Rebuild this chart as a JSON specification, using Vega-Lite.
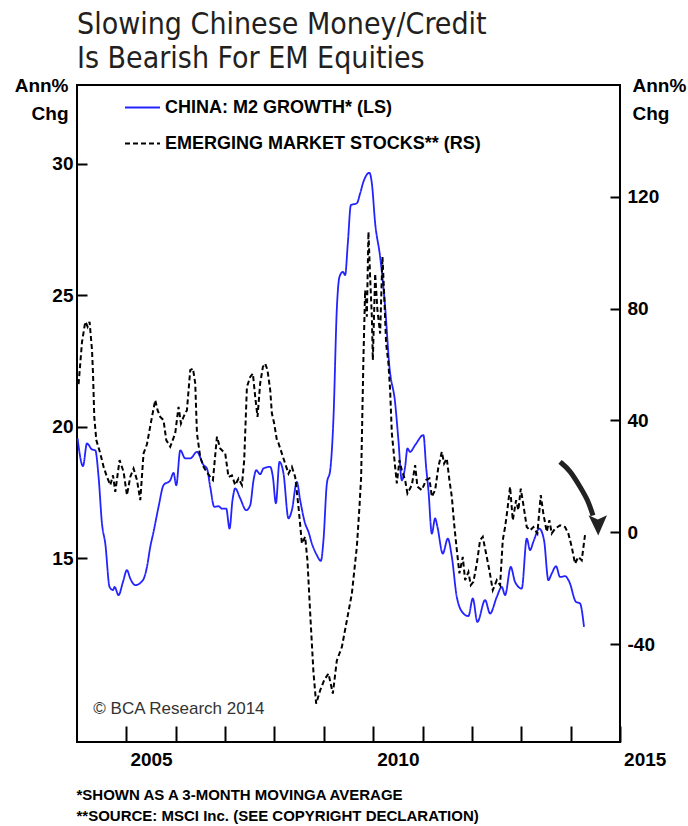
{
  "$schema": "https://vega.github.io/schema/vega-lite/v6.json",
  "width": 543,
  "height": 657,
  "autosize": {"type": "none"},
  "padding": {"left": 77, "top": 85, "right": 68, "bottom": 84},
  "background": "white",
  "config": {
    "font": "Liberation Sans",
    "view": {"stroke": "black", "strokeWidth": 2},
    "legend": {
      "orient": "none", "legendX": 47, "legendY": 4, "title": null,
      "symbolType": "stroke", "symbolSize": 1225, "symbolStrokeWidth": 2,
      "labelFontSize": 18, "labelFontWeight": "bold", "labelColor": "black",
      "labelOffset": 4, "rowPadding": 8, "labelLimit": 0
    }
  },
  "title": {
    "text": ["Slowing Chinese Money/Credit", "Is Bearish For EM Equities"],
    "anchor": "start", "frame": "group", "orient": "top",
    "font": "Liberation Sans Narrow, DejaVu Sans Condensed, sans-serif",
    "fontSize": 30, "fontWeight": "normal", "color": "#231f20",
    "lineHeight": 34, "offset": 2
  },
  "datasets": {
    "m2": [
      {"year": 2004.012, "m2": 19.55}, {"year": 2004.121, "m2": 18.5}, {"year": 2004.202, "m2": 19.36},
      {"year": 2004.304, "m2": 19.13}, {"year": 2004.371, "m2": 19.1}, {"year": 2004.437, "m2": 18.09},
      {"year": 2004.506, "m2": 16.31}, {"year": 2004.573, "m2": 15.55}, {"year": 2004.66, "m2": 13.9},
      {"year": 2004.729, "m2": 13.78}, {"year": 2004.761, "m2": 13.9}, {"year": 2004.842, "m2": 13.59},
      {"year": 2004.931, "m2": 14.09}, {"year": 2005.012, "m2": 14.54}, {"year": 2005.079, "m2": 14.22},
      {"year": 2005.18, "m2": 13.97}, {"year": 2005.336, "m2": 14.16}, {"year": 2005.417, "m2": 14.66},
      {"year": 2005.484, "m2": 15.42}, {"year": 2005.551, "m2": 16.0}, {"year": 2005.652, "m2": 16.95},
      {"year": 2005.753, "m2": 17.77}, {"year": 2005.889, "m2": 17.96}, {"year": 2005.956, "m2": 18.24},
      {"year": 2006.011, "m2": 17.77}, {"year": 2006.092, "m2": 19.1}, {"year": 2006.193, "m2": 18.79},
      {"year": 2006.294, "m2": 18.79}, {"year": 2006.43, "m2": 19.04}, {"year": 2006.563, "m2": 18.54},
      {"year": 2006.632, "m2": 18.41}, {"year": 2006.699, "m2": 17.71}, {"year": 2006.78, "m2": 16.95},
      {"year": 2006.867, "m2": 16.97}, {"year": 2006.936, "m2": 16.88}, {"year": 2007.023, "m2": 16.88},
      {"year": 2007.09, "m2": 16.12}, {"year": 2007.15, "m2": 17.2}, {"year": 2007.205, "m2": 17.65},
      {"year": 2007.306, "m2": 17.27}, {"year": 2007.428, "m2": 16.82}, {"year": 2007.509, "m2": 17.01},
      {"year": 2007.576, "m2": 17.96}, {"year": 2007.63, "m2": 18.34}, {"year": 2007.711, "m2": 18.19},
      {"year": 2007.778, "m2": 18.41}, {"year": 2007.914, "m2": 18.47}, {"year": 2007.968, "m2": 18.09},
      {"year": 2008.029, "m2": 17.08}, {"year": 2008.102, "m2": 18.66}, {"year": 2008.183, "m2": 18.22},
      {"year": 2008.284, "m2": 16.51}, {"year": 2008.353, "m2": 16.82}, {"year": 2008.454, "m2": 17.9},
      {"year": 2008.521, "m2": 17.2}, {"year": 2008.622, "m2": 16.31}, {"year": 2008.689, "m2": 16.0},
      {"year": 2008.758, "m2": 15.55}, {"year": 2008.859, "m2": 15.11}, {"year": 2008.94, "m2": 14.89},
      {"year": 2008.993, "m2": 15.68}, {"year": 2009.062, "m2": 17.84}, {"year": 2009.129, "m2": 18.34},
      {"year": 2009.195, "m2": 20.3}, {"year": 2009.264, "m2": 24.5}, {"year": 2009.317, "m2": 25.7},
      {"year": 2009.386, "m2": 25.89}, {"year": 2009.432, "m2": 25.77}, {"year": 2009.487, "m2": 27.0},
      {"year": 2009.548, "m2": 28.43}, {"year": 2009.669, "m2": 28.5}, {"year": 2009.736, "m2": 28.88},
      {"year": 2009.803, "m2": 29.32}, {"year": 2009.924, "m2": 29.66}, {"year": 2009.973, "m2": 29.26},
      {"year": 2010.04, "m2": 27.74}, {"year": 2010.141, "m2": 26.46}, {"year": 2010.242, "m2": 24.56},
      {"year": 2010.329, "m2": 22.28}, {"year": 2010.445, "m2": 20.9}, {"year": 2010.511, "m2": 19.49},
      {"year": 2010.58, "m2": 17.96}, {"year": 2010.647, "m2": 18.47}, {"year": 2010.694, "m2": 19.17},
      {"year": 2010.748, "m2": 19.04}, {"year": 2010.85, "m2": 19.3}, {"year": 2011.018, "m2": 19.68},
      {"year": 2011.072, "m2": 18.47}, {"year": 2011.119, "m2": 17.58}, {"year": 2011.188, "m2": 15.93},
      {"year": 2011.255, "m2": 16.51}, {"year": 2011.301, "m2": 16.19}, {"year": 2011.41, "m2": 15.17},
      {"year": 2011.512, "m2": 15.74}, {"year": 2011.593, "m2": 15.05}, {"year": 2011.694, "m2": 13.52},
      {"year": 2011.828, "m2": 12.89}, {"year": 2011.929, "m2": 12.79}, {"year": 2012.018, "m2": 13.46},
      {"year": 2012.111, "m2": 12.57}, {"year": 2012.267, "m2": 13.4}, {"year": 2012.368, "m2": 12.89},
      {"year": 2012.504, "m2": 13.52}, {"year": 2012.605, "m2": 13.9}, {"year": 2012.672, "m2": 13.59},
      {"year": 2012.787, "m2": 14.66}, {"year": 2012.874, "m2": 14.09}, {"year": 2013.01, "m2": 13.84},
      {"year": 2013.111, "m2": 15.74}, {"year": 2013.178, "m2": 15.3}, {"year": 2013.245, "m2": 15.62},
      {"year": 2013.366, "m2": 16.12}, {"year": 2013.461, "m2": 15.68}, {"year": 2013.549, "m2": 14.16},
      {"year": 2013.617, "m2": 14.41}, {"year": 2013.704, "m2": 14.69}, {"year": 2013.785, "m2": 14.28},
      {"year": 2013.887, "m2": 14.31}, {"year": 2013.974, "m2": 14.09}, {"year": 2014.109, "m2": 13.33},
      {"year": 2014.19, "m2": 13.27}, {"year": 2014.271, "m2": 12.38}
    ],
    "em": [
      {"year": 2004.032, "em": 53}, {"year": 2004.101, "em": 68}, {"year": 2004.168, "em": 75.3},
      {"year": 2004.188, "em": 74.7}, {"year": 2004.215, "em": 73.5}, {"year": 2004.255, "em": 75.3},
      {"year": 2004.304, "em": 65.2}, {"year": 2004.324, "em": 57}, {"year": 2004.35, "em": 41.3},
      {"year": 2004.391, "em": 33.0}, {"year": 2004.472, "em": 28.2}, {"year": 2004.539, "em": 23.4},
      {"year": 2004.607, "em": 19.8}, {"year": 2004.674, "em": 16.9}, {"year": 2004.729, "em": 20.4},
      {"year": 2004.775, "em": 14.5}, {"year": 2004.863, "em": 25.8}, {"year": 2004.944, "em": 21.6},
      {"year": 2005.012, "em": 13.3}, {"year": 2005.079, "em": 19.8}, {"year": 2005.146, "em": 22.8},
      {"year": 2005.215, "em": 18.7}, {"year": 2005.282, "em": 11.5}, {"year": 2005.348, "em": 28.2},
      {"year": 2005.417, "em": 31.5}, {"year": 2005.519, "em": 41.3}, {"year": 2005.585, "em": 47.3},
      {"year": 2005.632, "em": 43.7}, {"year": 2005.687, "em": 41.3}, {"year": 2005.753, "em": 40.1},
      {"year": 2005.808, "em": 33.0}, {"year": 2005.889, "em": 30.6}, {"year": 2005.99, "em": 35.4},
      {"year": 2006.057, "em": 44.9}, {"year": 2006.106, "em": 38.9}, {"year": 2006.158, "em": 41.3},
      {"year": 2006.227, "em": 43.7}, {"year": 2006.294, "em": 58.0}, {"year": 2006.349, "em": 58.6},
      {"year": 2006.395, "em": 53.3}, {"year": 2006.43, "em": 35.4}, {"year": 2006.496, "em": 27.0},
      {"year": 2006.563, "em": 23.4}, {"year": 2006.699, "em": 19.8}, {"year": 2006.754, "em": 18.7},
      {"year": 2006.835, "em": 34.2}, {"year": 2006.901, "em": 30.0}, {"year": 2007.003, "em": 28.2},
      {"year": 2007.069, "em": 19.8}, {"year": 2007.138, "em": 20.4}, {"year": 2007.205, "em": 16.9},
      {"year": 2007.272, "em": 19.2}, {"year": 2007.341, "em": 16.9}, {"year": 2007.387, "em": 25.8},
      {"year": 2007.442, "em": 52.0}, {"year": 2007.509, "em": 55.6}, {"year": 2007.563, "em": 56.8},
      {"year": 2007.61, "em": 48.5}, {"year": 2007.657, "em": 41.3}, {"year": 2007.711, "em": 53.3},
      {"year": 2007.766, "em": 59.2}, {"year": 2007.812, "em": 60.4}, {"year": 2007.859, "em": 58.0},
      {"year": 2007.914, "em": 50.9}, {"year": 2007.948, "em": 42.5}, {"year": 2007.995, "em": 38.9},
      {"year": 2008.049, "em": 33}, {"year": 2008.08, "em": 32}, {"year": 2008.183, "em": 26.4},
      {"year": 2008.284, "em": 21.0}, {"year": 2008.353, "em": 23.4}, {"year": 2008.42, "em": 19.8},
      {"year": 2008.487, "em": 9.1}, {"year": 2008.556, "em": -4.0}, {"year": 2008.622, "em": -1.6},
      {"year": 2008.668, "em": -10.0}, {"year": 2008.724, "em": -29.0}, {"year": 2008.79, "em": -50},
      {"year": 2008.845, "em": -61.3}, {"year": 2008.926, "em": -56.5}, {"year": 2009.007, "em": -52.9},
      {"year": 2009.094, "em": -50.5}, {"year": 2009.183, "em": -57.7}, {"year": 2009.264, "em": -45.8},
      {"year": 2009.366, "em": -41.0}, {"year": 2009.467, "em": -31.5}, {"year": 2009.568, "em": -21.9},
      {"year": 2009.669, "em": -5.2}, {"year": 2009.722, "em": 9.1}, {"year": 2009.756, "em": 19.8},
      {"year": 2009.803, "em": 62.8}, {"year": 2009.837, "em": 86.6}, {"year": 2009.872, "em": 77.1},
      {"year": 2009.904, "em": 107.5}, {"year": 2009.938, "em": 91.4}, {"year": 2009.973, "em": 77.1},
      {"year": 2009.993, "em": 61.6}, {"year": 2010.04, "em": 92.6}, {"year": 2010.086, "em": 79.5},
      {"year": 2010.141, "em": 71.1}, {"year": 2010.188, "em": 98.6}, {"year": 2010.222, "em": 85.5},
      {"year": 2010.262, "em": 67.6}, {"year": 2010.309, "em": 60.4}, {"year": 2010.343, "em": 50.9},
      {"year": 2010.378, "em": 35.4}, {"year": 2010.445, "em": 23.4}, {"year": 2010.479, "em": 17.5},
      {"year": 2010.532, "em": 25.8}, {"year": 2010.58, "em": 22.2}, {"year": 2010.647, "em": 18.7},
      {"year": 2010.694, "em": 13.9}, {"year": 2010.783, "em": 16.9}, {"year": 2010.85, "em": 24.0},
      {"year": 2010.896, "em": 16.3}, {"year": 2010.985, "em": 15.1}, {"year": 2011.072, "em": 18.7},
      {"year": 2011.139, "em": 19.3}, {"year": 2011.188, "em": 12.7}, {"year": 2011.255, "em": 15.1},
      {"year": 2011.321, "em": 23.4}, {"year": 2011.39, "em": 28.8}, {"year": 2011.437, "em": 24.6},
      {"year": 2011.491, "em": 26.4}, {"year": 2011.544, "em": 18.7}, {"year": 2011.593, "em": 12.7},
      {"year": 2011.639, "em": 3.2}, {"year": 2011.694, "em": -6.3}, {"year": 2011.747, "em": -14.7},
      {"year": 2011.815, "em": -8.8}, {"year": 2011.862, "em": -17.1}, {"year": 2011.929, "em": -14.2},
      {"year": 2011.977, "em": -18.9}, {"year": 2012.03, "em": -17.7}, {"year": 2012.099, "em": -11.2},
      {"year": 2012.166, "em": -2.8}, {"year": 2012.22, "em": -1.6}, {"year": 2012.287, "em": -7.6},
      {"year": 2012.354, "em": -13.6}, {"year": 2012.423, "em": -20.7}, {"year": 2012.504, "em": -17.1},
      {"year": 2012.571, "em": -18.9}, {"year": 2012.625, "em": -2.8}, {"year": 2012.672, "em": 1.9},
      {"year": 2012.718, "em": 7.9}, {"year": 2012.773, "em": 16.3}, {"year": 2012.828, "em": 4.3},
      {"year": 2012.895, "em": 11.5}, {"year": 2012.941, "em": 7.9}, {"year": 2012.99, "em": 15.6},
      {"year": 2013.042, "em": 9.9}, {"year": 2013.111, "em": 1.9}, {"year": 2013.178, "em": 0.7},
      {"year": 2013.245, "em": 1.9}, {"year": 2013.326, "em": -0.4}, {"year": 2013.395, "em": 13.3},
      {"year": 2013.447, "em": 6.7}, {"year": 2013.516, "em": 0.2}, {"year": 2013.569, "em": 4.3},
      {"year": 2013.617, "em": -0.4}, {"year": 2013.684, "em": 1.3}, {"year": 2013.785, "em": 2.5},
      {"year": 2013.887, "em": 1.9}, {"year": 2013.953, "em": -0.4}, {"year": 2014.022, "em": -5.2},
      {"year": 2014.089, "em": -11.2}, {"year": 2014.156, "em": -8.8}, {"year": 2014.225, "em": -10.0},
      {"year": 2014.291, "em": -1.0}
    ],
    "arrow": [
      {"year": 2013.785, "em": 25.2}, {"year": 2013.988, "em": 22.2}, {"year": 2014.19, "em": 16.3},
      {"year": 2014.352, "em": 11.5}, {"year": 2014.453, "em": 6.0}
    ]
  },
  "layer": [
    {
      "data": {"name": "m2"},
      "mark": {"type": "line", "strokeWidth": 1.8, "interpolate": "monotone"},
      "encoding": {
        "x": {
          "field": "year", "type": "quantitative",
          "scale": {"domain": [2004, 2015], "nice": false, "zero": false},
          "axis": {
            "values": [2005, 2006, 2007, 2008, 2009, 2010, 2011, 2012, 2013, 2014, 2015],
            "format": "d",
            "labelExpr": "datum.value % 5 == 0 ? datum.label : ''",
            "labelOffset": 24.7, "labelFlush": false, "labelOverlap": false,
            "labelFontSize": 19, "labelFontWeight": "bold", "labelColor": "black",
            "labelBaseline": "alphabetic", "labelPadding": 39,
            "tickSize": -16, "tickWidth": 2, "tickColor": "black",
            "domain": false, "grid": false,
            "title": ["*SHOWN AS A 3-MONTH MOVINGA AVERAGE", "**SOURCE: MSCI Inc. (SEE COPYRIGHT DECLARATION)"],
            "titleAnchor": "start", "titleAlign": "left", "titleBaseline": "alphabetic",
            "titleX": -1, "titleY": 57, "titleFontSize": 15, "titleFontWeight": "bold",
            "titleLineHeight": 21, "titleColor": "black"
          }
        },
        "y": {
          "field": "m2", "type": "quantitative",
          "scale": {"domain": [8, 33], "nice": false, "zero": false},
          "axis": {
            "values": [15, 20, 25, 30],
            "tickSize": -10, "tickWidth": 2, "tickColor": "black",
            "labelPadding": 14, "labelFontSize": 19, "labelFontWeight": "bold", "labelColor": "black",
            "domain": false, "grid": false,
            "title": ["Ann%", "Chg"], "titleAngle": 0, "titleAlign": "right", "titleBaseline": "alphabetic",
            "titleX": -9, "titleY": 6, "titleFontSize": 19, "titleFontWeight": "bold",
            "titleLineHeight": 28.6, "titleColor": "black"
          }
        },
        "color": {
          "datum": "CHINA: M2 GROWTH* (LS)",
          "scale": {"domain": ["CHINA: M2 GROWTH* (LS)", "EMERGING MARKET STOCKS** (RS)"], "range": ["#2323ff", "black"]}
        },
        "strokeDash": {
          "datum": "CHINA: M2 GROWTH* (LS)",
          "scale": {"domain": ["CHINA: M2 GROWTH* (LS)", "EMERGING MARKET STOCKS** (RS)"], "range": [[1, 0], [5, 3]]}
        }
      }
    },
    {
      "layer": [
        {
          "data": {"name": "em"},
          "mark": {"type": "line", "strokeWidth": 2},
          "encoding": {
            "x": {"field": "year", "type": "quantitative"},
            "y": {
              "field": "em", "type": "quantitative",
              "scale": {"domain": [-75, 160], "nice": false, "zero": false},
              "axis": {
                "orient": "right",
                "values": [-40, 0, 40, 80, 120],
                "labelExpr": "'' + datum.value",
                "tickSize": -10, "tickWidth": 2, "tickColor": "black",
                "labelPadding": 17, "labelFontSize": 19, "labelFontWeight": "bold", "labelColor": "black",
                "domain": false, "grid": false,
                "title": ["Ann%", "Chg"], "titleAngle": 0, "titleAlign": "left", "titleBaseline": "alphabetic",
                "titleX": 12, "titleY": 6, "titleFontSize": 19, "titleFontWeight": "bold",
                "titleLineHeight": 28.6, "titleColor": "black"
              }
            },
            "color": {"datum": "EMERGING MARKET STOCKS** (RS)"},
            "strokeDash": {"datum": "EMERGING MARKET STOCKS** (RS)"}
          }
        },
        {
          "data": {"name": "arrow"},
          "mark": {"type": "line", "interpolate": "basis", "color": "#222222", "strokeWidth": 5, "strokeCap": "butt"},
          "encoding": {
            "x": {"field": "year", "type": "quantitative"},
            "y": {"field": "em", "type": "quantitative"}
          }
        },
        {
          "data": {"values": [{}]},
          "mark": {"type": "point", "shape": "M-1,-1 L0,-0.55 L1,-1 L0.05,1.2 Z", "filled": true, "color": "#222222", "size": 340, "opacity": 1},
          "encoding": {
            "x": {"datum": 2014.55},
            "y": {"datum": 2.8}
          }
        },
        {
          "data": {"values": [{}]},
          "mark": {"type": "text", "text": "© BCA Research 2014", "align": "left", "baseline": "middle", "fontSize": 17, "color": "#333333"},
          "encoding": {
            "x": {"datum": 2004.33},
            "y": {"datum": -63.3}
          }
        }
      ]
    }
  ],
  "resolve": {"scale": {"y": "independent"}}
}
